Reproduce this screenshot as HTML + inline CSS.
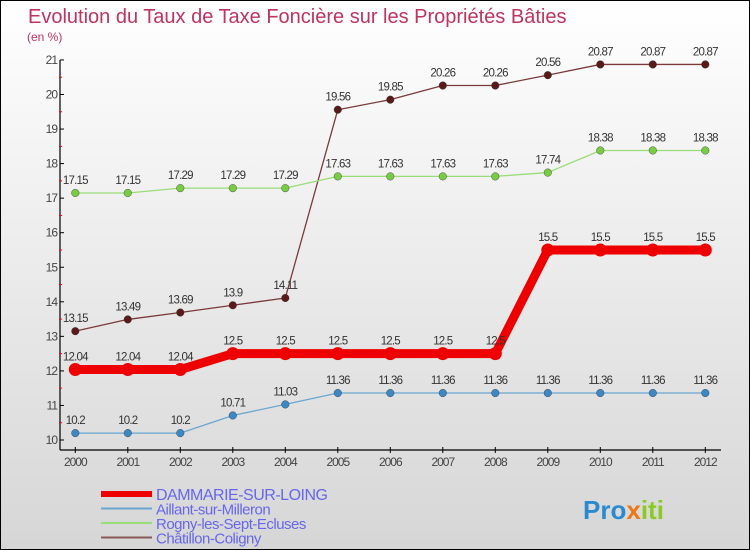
<!DOCTYPE html>
<html><head><meta charset="utf-8"><style>
body{margin:0}
#c{width:748px;height:548px;border:1px solid #000;background:linear-gradient(#fff,#d6d6d6);position:relative;font-family:"Liberation Sans","DejaVu Sans",sans-serif}
</style></head><body>
<div id="c">
<svg id="s" width="748" height="548" style="position:absolute;left:0;top:0"></svg>
</div>
<script>
const years=[2000,2001,2002,2003,2004,2005,2006,2007,2008,2009,2010,2011,2012];
const dammarie=[12.04,12.04,12.04,12.5,12.5,12.5,12.5,12.5,12.5,15.5,15.5,15.5,15.5];
const aillant=[10.2,10.2,10.2,10.71,11.03,11.36,11.36,11.36,11.36,11.36,11.36,11.36,11.36];
const rogny=[17.15,17.15,17.29,17.29,17.29,17.63,17.63,17.63,17.63,17.74,18.38,18.38,18.38];
const chatillon=[13.15,13.49,13.69,13.9,14.11,19.56,19.85,20.26,20.26,20.56,20.87,20.87,20.87];
const yTicks=[10,11,12,13,14,15,16,17,18,19,20,21];
const NS="http://www.w3.org/2000/svg";
const svg=document.getElementById('s');
const X=i=>74.3+i*52.5, Y=v=>439-(v-10)*34.55;
function el(t,a,p){const e=document.createElementNS(NS,t);for(const k in a)e.setAttribute(k,a[k]);(p||svg).appendChild(e);return e;}
function txt(x,y,s,a){const e=el('text',Object.assign({x:x,y:y},a));e.textContent=s;return e;}
let t=txt(27,22,"Evolution du Taux de Taxe Foncière sur les Propriétés Bâties",{fill:"#c0335f","font-size":20});

t=txt(26,40,"(en %)",{fill:"#c0335f","font-size":12});

let ax=el('line',{x1:59,y1:59,x2:59,y2:449,stroke:"#000","stroke-width":1.2});

ax=el('line',{x1:59,y1:449,x2:720,y2:449,stroke:"#000","stroke-width":1.2});

yTicks.forEach(v=>{el('line',{x1:59,y1:Y(v),x2:63,y2:Y(v),stroke:"#000"});
 if(v<21)el('line',{x1:58,y1:Y(v+0.5),x2:61,y2:Y(v+0.5),stroke:"red"});
 const l=txt(56,Y(v)+4,v,{"text-anchor":"end","font-size":12,fill:"#444","letter-spacing":"-1"});
 });
years.forEach((y,i)=>{el('line',{x1:X(i),y1:446,x2:X(i),y2:452,stroke:"#000"});
 const l=txt(X(i),465,y,{"text-anchor":"middle","font-size":12,fill:"#444","letter-spacing":"-1"});
 });
const series=[
 {d:chatillon,c:"#7a3a3a",dot:"#5a1a1a",w:1.3,r:3.8,n:"chatillon"},
 {d:rogny,c:"#99dd77",dot:"#77cc44",w:1.3,r:3.8,n:"rogny"},
 {d:aillant,c:"#6aa6d0",dot:"#3b88c4",w:1.3,r:3.8,n:"aillant"},
 {d:dammarie,c:"#ee0000",dot:"#ee0000",w:9,r:6.5,n:"dammarie"}];
series.forEach(s=>{
 const p=el('polyline',{points:s.d.map((v,i)=>X(i)+","+Y(v)).join(" "),fill:"none",stroke:s.c,"stroke-width":s.w,"stroke-linejoin":"round"});
 
 s.d.forEach((v,i)=>{const c=el('circle',{cx:X(i),cy:Y(v),r:s.r,fill:s.dot,stroke:s.w>5?"none":"#333","stroke-width":0.4});
  
  const l=txt(X(i),Y(v)-9,String(v),{"text-anchor":"middle","font-size":11.5,fill:"#333","letter-spacing":"-0.8"});
  });
});
const leg=[["DAMMARIE-SUR-LOING","#ee0000",6],["Aillant-sur-Milleron","#6aa6d0",2],["Rogny-les-Sept-Ecluses","#99dd77",2],["Châtillon-Coligny","#8a5a5a",2]];
leg.forEach((g,i)=>{const y=493+i*14.5;
 const l=el('line',{x1:100,y1:y,x2:151,y2:y,stroke:g[1],"stroke-width":g[2]});
 
 const tx=txt(155,y+6,g[0],{fill:"#6666ee","font-size":i==0?16:15,"letter-spacing":"-0.5"});
 });
const lg=txt(582,518,"",{"font-size":26,"font-weight":"bold"});

[["Pro","#2a8ad0"],["x","#ee7711"],["iti","#88cc22"]].forEach(p=>{const ts=el('tspan',{fill:p[1]},lg);ts.textContent=p[0];});
</script>
</body></html>
